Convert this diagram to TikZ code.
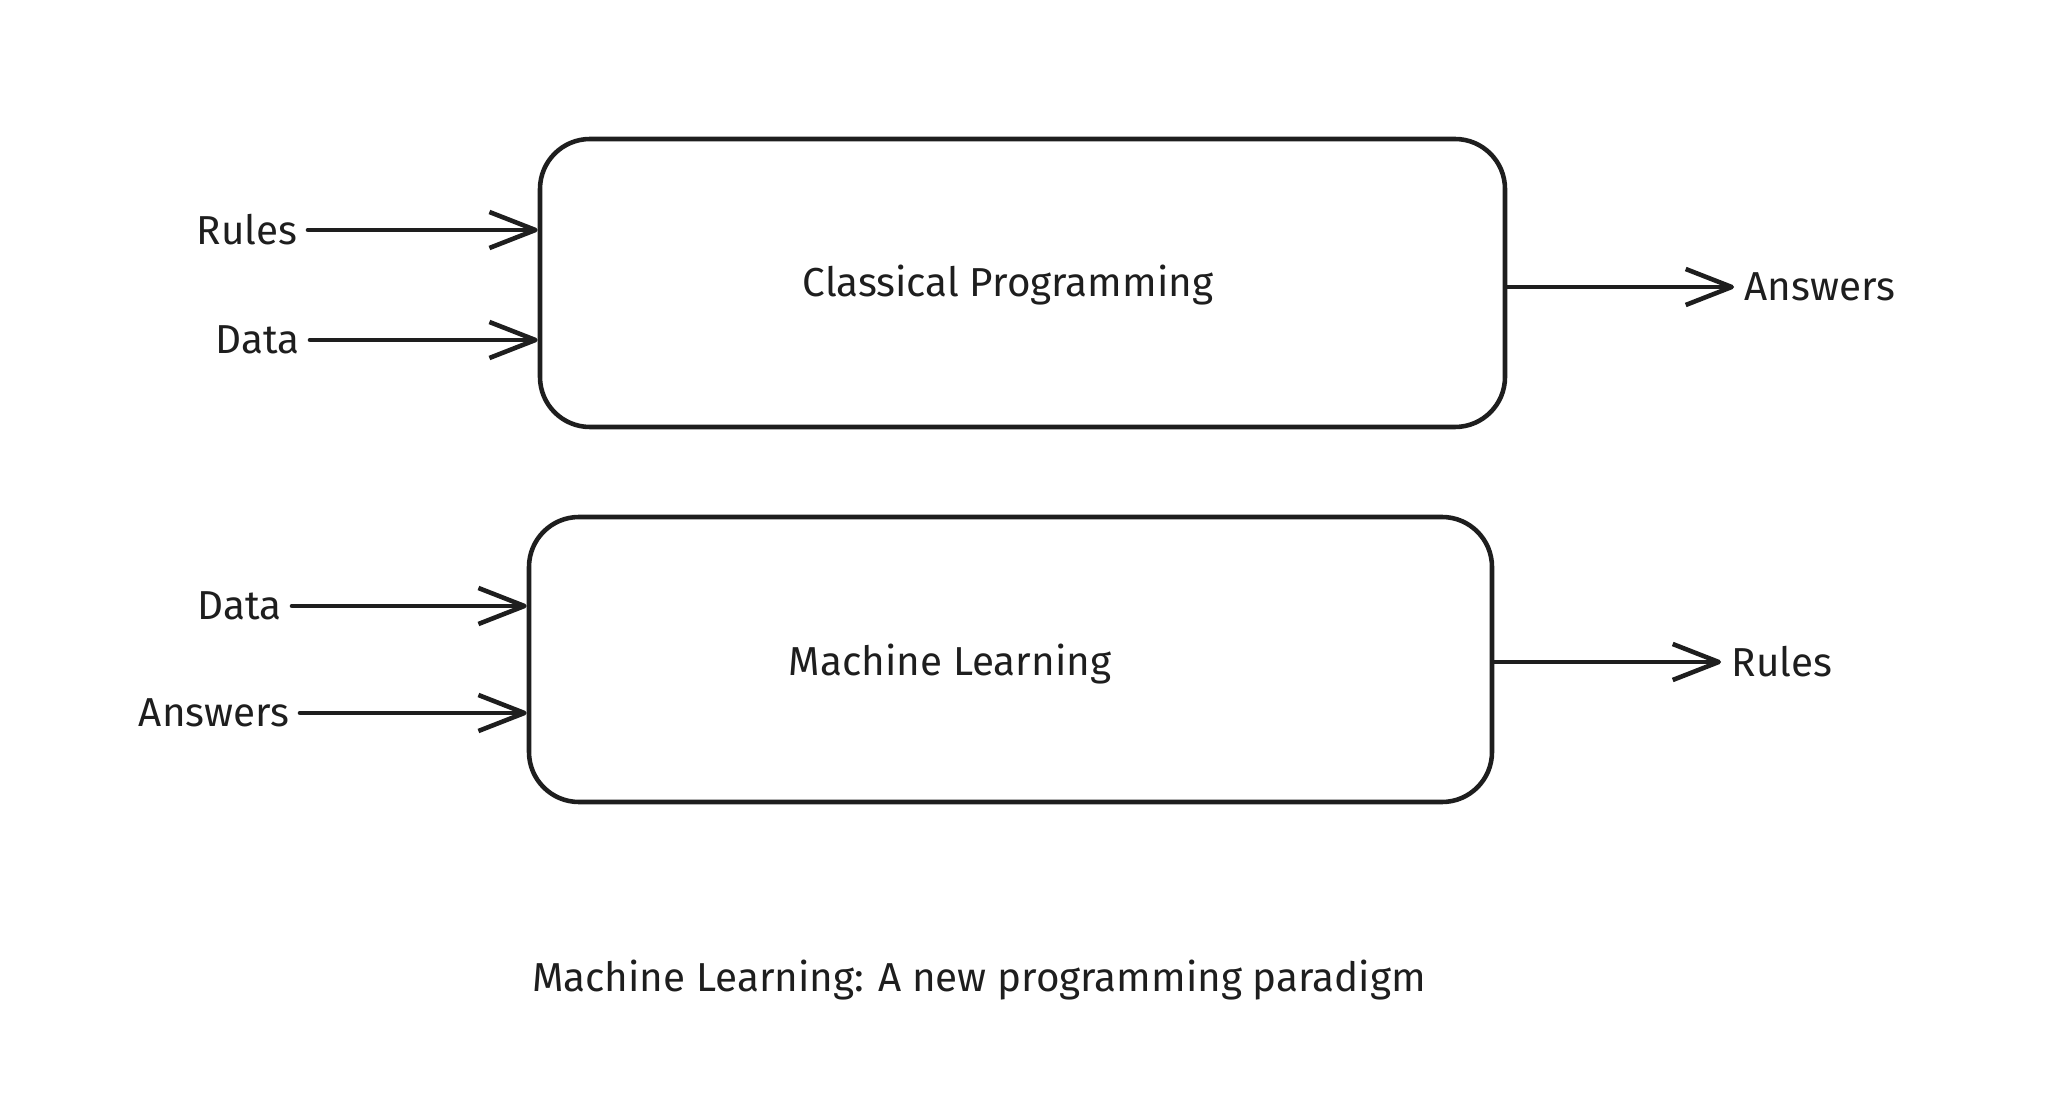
\documentclass[tikz,border=0pt]{standalone}
\usepackage{fontspec}
\setmainfont{Fira Sans}
\usepackage{xcolor}
\usepackage{tikz}
\usetikzlibrary{positioning, arrows.meta, calc}
\definecolor{inkblack}{HTML}{1E1E1E}

\begin{document}
\begin{tikzpicture}[
    every node/.style={font=\fontsize{11.5}{14}\selectfont, text=inkblack},
    procbox/.style={draw=inkblack, line width=1.3pt, rounded corners=0.5cm, inner sep=0pt},
    lbl/.style={inner xsep=1mm, inner ysep=0pt},
    flow/.style={draw=inkblack, line width=1.3pt, line cap=round,
                 -{Straight Barb[length=4.6mm, width=3.6mm, line join=round]}}]
    \useasboundingbox (0,0) rectangle (20.52,11.02);

    % classical programming
    \node[procbox, minimum width=9.65cm, minimum height=2.88cm] (classic) at (10.225,8.19) {};
    \node (classictext) at (10.08,8.17) {Classical Programming};
    \node[lbl, anchor=east] (rulesin) at (3.08,8.72) {Rules};
    \node[lbl, anchor=east] (datain) at (3.10,7.62) {Data};
    \node[lbl, anchor=west] (answersout) at (17.34,8.15) {Answers};
    \draw[flow] (rulesin.east) -- (rulesin.east -| classic.west);
    \draw[flow] (datain.east) -- (datain.east -| classic.west);
    \draw[flow] (answersout.west -| classic.east) -- (answersout.west);

    % machine learning
    \node[procbox, minimum width=9.63cm, minimum height=2.85cm] (ml) at (10.105,4.425) {};
    \node (mltext) at (9.50,4.38) {Machine Learning};
    \node[lbl, anchor=east] (datamlin) at (2.92,4.96) {Data};
    \node[lbl, anchor=east] (answersmlin) at (3.00,3.89) {Answers};
    \node[lbl, anchor=west] (rulesout) at (17.21,4.40) {Rules};
    \draw[flow] (datamlin.east) -- (datamlin.east -| ml.west);
    \draw[flow] (answersmlin.east) -- (answersmlin.east -| ml.west);
    \draw[flow] (rulesout.west -| ml.east) -- (rulesout.west);

    \node (caption) at (9.79,1.22) {Machine Learning: A new programming paradigm};
\end{tikzpicture}
\end{document}
